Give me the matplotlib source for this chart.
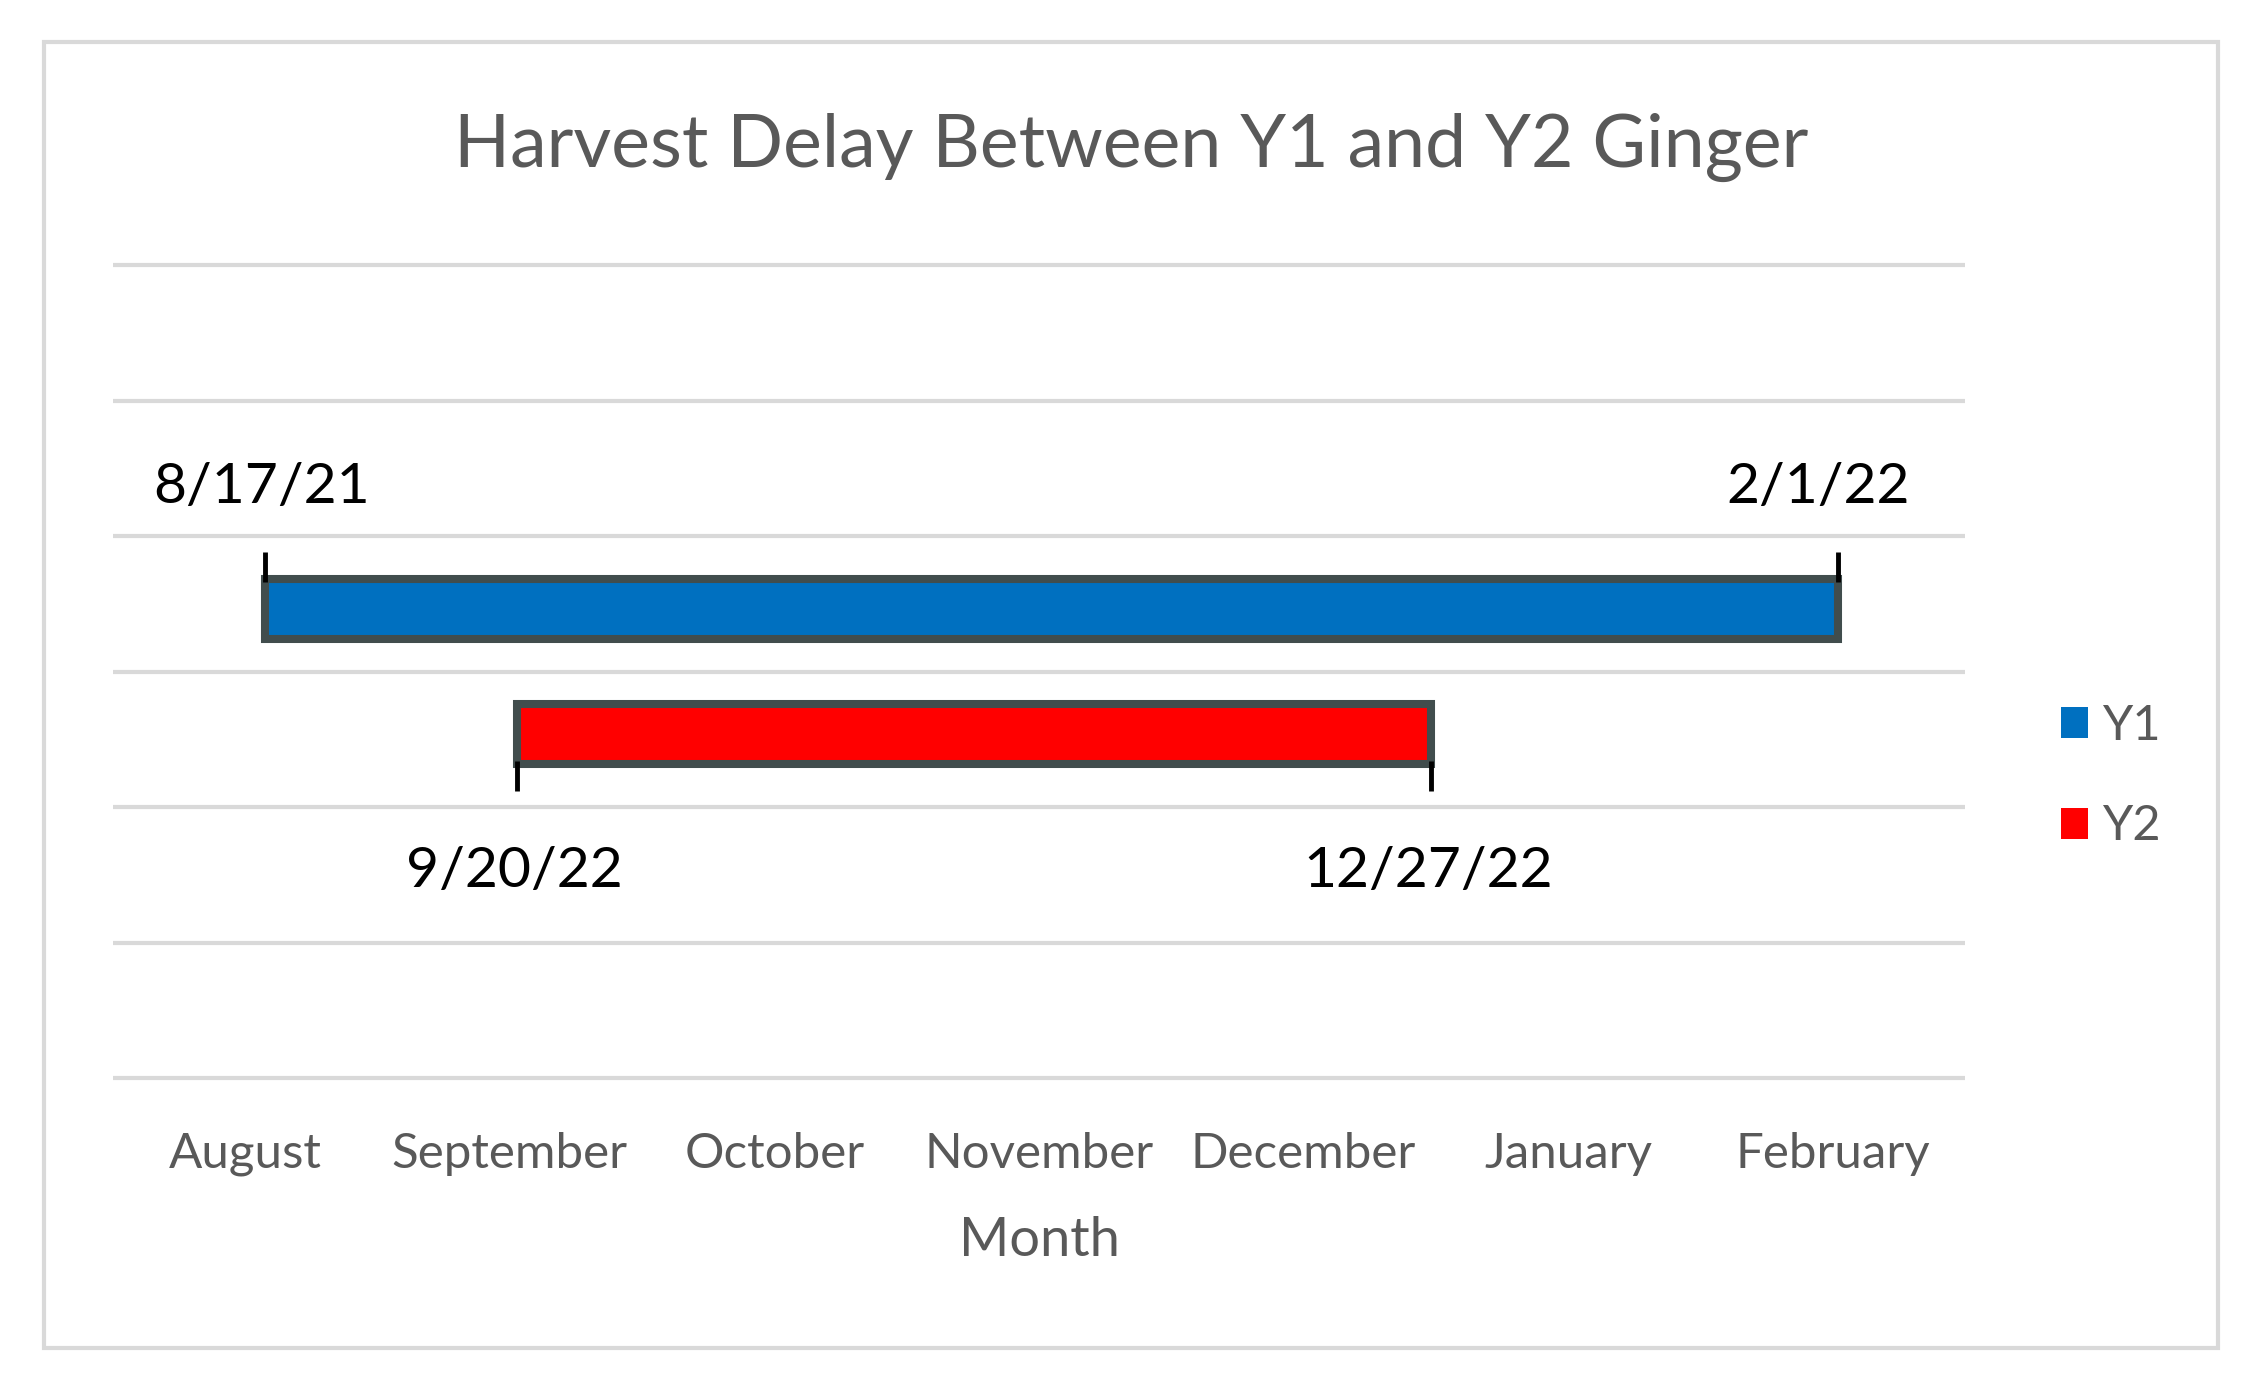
import matplotlib
matplotlib.use("Agg")
import matplotlib.pyplot as plt
from matplotlib.patches import Rectangle, Patch
import numpy as np

plt.rcParams['font.family'] = ['Lato', 'DejaVu Sans']

# ---- data ----
title = "Harvest Delay Between Y1 and Y2 Ginger"
months = ["August", "September", "October", "November", "December", "January", "February"]
series = ["Y1", "Y2"]
start_labels = ["8/17/21", "9/20/22"]
end_labels = ["2/1/22", "12/27/22"]
start_pos = [0.573, 1.527]   # position along month-category axis
end_pos = [6.519, 4.981]
row_pos = [3.46, 2.54]       # vertical position in gridline units
colors = ["#0070c0", "#ff0000"]
xlabel = "Month"

GRAY = "#595959"
W, H = 2249, 1390
fig = plt.figure(figsize=(W / 100, H / 100), dpi=100)

# outer chart border
fig.add_artist(Rectangle((44 / W, 1 - 1348 / H), (2218 - 44) / W, (1348 - 42) / H,
                         transform=fig.transFigure, fill=False, ec="#d9d9d9", lw=3))

ext = 0.05
px_per_unit = 135.5
top_px = 265 - ext * px_per_unit
bot_px = 1078 + ext * px_per_unit
ax = fig.add_axes([113 / W, 1 - bot_px / H, (1965 - 113) / W, (bot_px - top_px) / H])
ax.set_xlim(0, len(months))
ax.set_ylim(-ext, 6 + ext)
for s in ax.spines.values():
    s.set_visible(False)
ax.set_yticks(range(7))
ax.tick_params(axis="y", left=False, labelleft=False)
ax.yaxis.grid(True, color="#d9d9d9", lw=3)
ax.set_axisbelow(True)
ax.set_xticks(np.arange(len(months)) + 0.5, months)
ax.tick_params(axis="x", length=0, pad=34, labelsize=35.5, labelcolor=GRAY)
ax.set_xlabel(xlabel, fontsize=39, color=GRAY, labelpad=29)

bar_h = 0.443
widths = [e - s for s, e in zip(start_pos, end_pos)]
ax.barh(row_pos, widths, left=start_pos, height=bar_h, color=colors,
        edgecolor="#414d4d", linewidth=5.8, zorder=3)

side = [1, -1]  # markers/labels above for Y1, below for Y2
for i in range(len(series)):
    y0 = row_pos[i] + side[i] * 0.20
    y1 = row_pos[i] + side[i] * 0.42
    ax.vlines([start_pos[i], end_pos[i]], min(y0, y1), max(y0, y1), color="black", lw=3.5, zorder=4)
    for x, lab in ((start_pos[i], start_labels[i]), (end_pos[i], end_labels[i])):
        dx = -14 if lab == "2/1/22" else -2
        if side[i] > 0:
            ax.annotate(lab, (x, row_pos[i] + 0.78), xytext=(dx, 0), textcoords="offset points",
                        ha="center", va="baseline", fontsize=41, color="black")
        else:
            ax.annotate(lab, (x, row_pos[i] - 0.83), xytext=(dx, 0), textcoords="offset points",
                        ha="center", va="top", fontsize=41, color="black")

# title, fitted to width
t = fig.text(1131 / W, 1 - 167 / H, title, ha="center", va="baseline", fontsize=52, color=GRAY)
r = fig.canvas.get_renderer()
wpx = t.get_window_extent(r).width
t.set_fontsize(52 * 1354 / wpx)

fig.legend(handles=[Patch(fc=c) for c in colors], labels=series, loc="center left",
           bbox_to_anchor=(2061 / W, 1 - 776 / H), frameon=False, fontsize=35,
           handlelength=0.55, handleheight=0.62, handletextpad=0.3, labelspacing=1.17,
           borderpad=0, borderaxespad=0, labelcolor=GRAY)

fig.savefig("out.png", dpi=100, facecolor="white")
